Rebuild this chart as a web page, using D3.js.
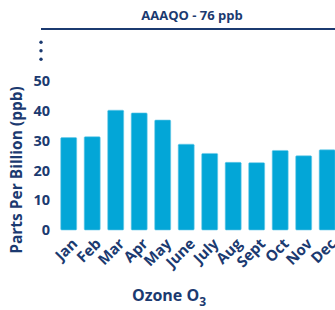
<!DOCTYPE html>
<html>
<head>
<meta charset="utf-8">
<script src="https://cdn.jsdelivr.net/npm/d3@7"></script>
<style>
  body { margin: 0; background: #fff; }
  svg { font-family: "Open Sans", sans-serif; font-weight: 700; }
</style>
</head>
<body>
<script>
// monthly ozone values (ppb)
const months = ["Jan", "Feb", "Mar", "Apr", "May", "June", "July", "Aug", "Sept", "Oct", "Nov", "Dec"];
const values = [31.0, 31.3, 40.2, 39.3, 36.9, 28.8, 25.7, 22.7, 22.6, 26.7, 24.9, 26.9];
const yTicks = [0, 10, 20, 30, 40, 50];

const width = 335, height = 310;
const navy = "#1b3a70";
const barColor = "#03a6d7";

const svg = d3.select("body").append("svg")
  .attr("width", width)
  .attr("height", height);

const x = d3.scaleBand()
  .domain(months)
  .range([53.2, 342.7])
  .padding(0.32);

const y = d3.scaleLinear()
  .domain([0, 50])
  .range([230, 81]);

// title + rule
svg.append("text")
  .attr("x", 192)
  .attr("y", 20)
  .attr("text-anchor", "middle")
  .attr("fill", navy)
  .style("font-size", "13px")
  .text("AAAQO - 76 ppb");

svg.append("line")
  .attr("x1", 41).attr("x2", 335)
  .attr("y1", 29).attr("y2", 29)
  .attr("stroke", navy)
  .attr("stroke-width", 2);

// vertical ellipsis (axis break)
svg.selectAll("circle.dot")
  .data([42.3, 50.7, 59.3])
  .join("circle")
  .attr("class", "dot")
  .attr("cx", 41)
  .attr("cy", d => d)
  .attr("r", 1.7)
  .attr("fill", navy);

// bars
svg.append("g")
  .selectAll("rect")
  .data(values)
  .join("rect")
  .attr("x", (d, i) => x(months[i]))
  .attr("y", d => y(d))
  .attr("width", x.bandwidth())
  .attr("height", d => y(0) - y(d))
  .attr("rx", 1)
  .attr("fill", barColor)
  .attr("stroke", "#6ccbea")
  .attr("stroke-width", 0.6);

// y axis
const yAxis = svg.append("g")
  .attr("transform", "translate(50,0)")
  .call(d3.axisLeft(y).tickValues(yTicks).tickSize(0).tickPadding(0));
yAxis.select(".domain").remove();
yAxis.selectAll("text")
  .attr("fill", navy)
  .style("font-family", "'Open Sans', sans-serif")
  .style("font-weight", 700)
  .style("font-size", "14.5px");

// x axis
const xAxis = svg.append("g")
  .attr("transform", "translate(0,232)")
  .call(d3.axisBottom(x).tickSize(0).tickPadding(0));
xAxis.select(".domain").remove();
xAxis.selectAll("text")
  .attr("fill", navy)
  .style("font-family", "'Open Sans', sans-serif")
  .style("font-weight", 700)
  .style("font-size", "15px")
  .attr("text-anchor", "end")
  .attr("dy", "0.35em")
  .attr("transform", "translate(6,9) rotate(-45)");

// axis titles
svg.append("text")
  .attr("transform", "translate(22,170) rotate(-90)")
  .attr("text-anchor", "middle")
  .attr("fill", navy)
  .style("font-size", "15.5px")
  .text("Parts Per Billion (ppb)");

const xt = svg.append("text")
  .attr("x", 169)
  .attr("y", 301)
  .attr("text-anchor", "middle")
  .attr("fill", navy)
  .style("font-size", "16px");
xt.append("tspan").text("Ozone O");
xt.append("tspan").attr("dy", 5).style("font-size", "12px").text("3");
</script>
</body>
</html>
